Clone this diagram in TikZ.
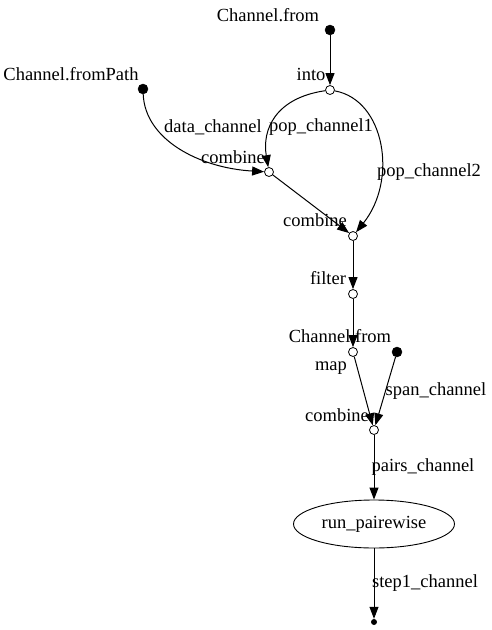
\documentclass[tikz,border=0pt]{standalone}
\usepackage{fontspec}
\setmainfont{Liberation Serif}
\usetikzlibrary{arrows.meta,shapes.geometric}
\begin{document}
\begin{tikzpicture}[x=1pt,y=-1pt,
  every node/.style={font=\fontsize{18.5}{20}\selectfont},
  dotnode/.style={circle,fill=black,draw=black,minimum size=10pt,inner sep=0pt},
  ringnode/.style={circle,fill=white,draw=black,line width=0.8pt,minimum size=9pt,inner sep=0pt},
  endnode/.style={circle,fill=black,minimum size=6pt,inner sep=0pt},
  lbl/.style={inner sep=0pt,anchor=center},
  edge/.style={draw=black,line width=1pt,-{Triangle[length=12pt,width=9pt]}}]
\useasboundingbox (0,0) rectangle (491,630);
% nodes
\node[dotnode] (cf) at (330,30) {};
\node[ringnode] (into) at (330,90) {};
\node[dotnode] (cfp) at (143,89) {};
\node[ringnode] (c1) at (269,172) {};
\node[ringnode] (c2) at (353,236) {};
\node[ringnode] (filt) at (353,294) {};
\node[ringnode] (map) at (353,352) {};
\node[dotnode] (span) at (397,352) {};
\node[ringnode] (c3) at (374,430) {};
\node[ellipse,draw=black,line width=0.9pt,minimum width=161pt,minimum height=48pt,inner sep=0pt] (run) at (374,524) {run\_pairewise};
\node[endnode] (end) at (374,622) {};
% labels
\node[lbl] (l1) at (268,15) {Channel.from};
\node[lbl] (l2) at (311,74) {into};
\node[lbl] (l3) at (71,74) {Channel.fromPath};
\node[lbl] (l4) at (213,127) {data\_channel};
\node[lbl] (l5) at (321,127) {pop\_channel1};
\node[lbl] (l6) at (233,157) {combine};
\node[lbl] (l7) at (429,172) {pop\_channel2};
\node[lbl] (l8) at (315,220) {combine};
\node[lbl] (l9) at (328,278) {filter};
\node[lbl] (l10) at (340,336) {Channel.from};
\node[lbl] (l11) at (331,368) {map};
\node[lbl] (l12) at (436,391) {span\_channel};
\node[lbl] (l13) at (337,415) {combine};
\node[lbl] (l14) at (423,467) {pairs\_channel};
\node[lbl] (l15) at (425,583) {step1\_channel};
% edges
\draw[edge] (cf) -- (into);
\draw[edge] (into) .. controls (275,98) and (262,130) .. (c1);
\draw[edge] (into) .. controls (385,100) and (398,180) .. (c2);
\draw[edge] (cfp) .. controls (145,140) and (200,168) .. (c1);
\draw[edge] (c1) -- (c2);
\draw[edge] (c2) -- (filt);
\draw[edge] (filt) -- (map);
\draw[edge] (map) -- (c3);
\draw[edge] (span) -- (c3);
\draw[edge] (c3) -- (run);
\draw[edge] (run) -- (end);
\end{tikzpicture}
\end{document}
